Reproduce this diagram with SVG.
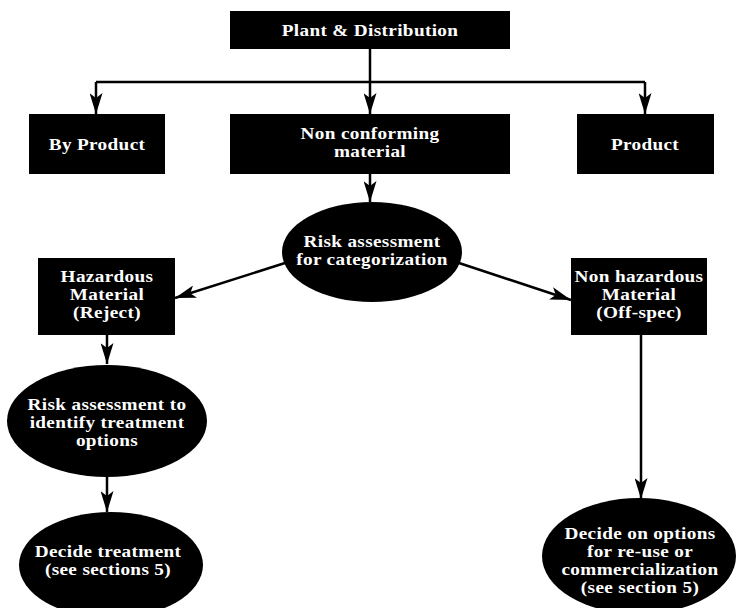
<svg xmlns="http://www.w3.org/2000/svg" width="737" height="608" viewBox="0 0 737 608">
<defs>
<marker id="arr" markerWidth="21" markerHeight="13" refX="21" refY="6.5" orient="auto" markerUnits="userSpaceOnUse" viewBox="0 0 21 13">
<path d="M0,0 L21,6.5 L0,13 L5,6.5 Z" fill="#000"/>
</marker>
<style>
.n{fill:#000}
.t{fill:#fff;font-family:"Liberation Serif",serif;font-weight:bold;font-size:16px;letter-spacing:0.3px;text-anchor:middle}
.c{stroke:#000;stroke-width:2.5;fill:none}
</style>
</defs>
<rect width="737" height="608" fill="#fff"/>
<g id="connectors">
<path class="c" d="M370,49 V82"/>
<path class="c" d="M96,82 H645"/>
<path class="c" d="M96,82 V114" marker-end="url(#arr)"/>
<path class="c" d="M370,82 V114" marker-end="url(#arr)"/>
<path class="c" d="M645,82 V114" marker-end="url(#arr)"/>
<path class="c" d="M370,174 V202" marker-end="url(#arr)"/>
<path class="c" d="M285,263 L175,298" marker-end="url(#arr)"/>
<path class="c" d="M459,263 L571,300" marker-end="url(#arr)"/>
<path class="c" d="M107,335 V364" marker-end="url(#arr)"/>
<path class="c" d="M107,477 V512" marker-end="url(#arr)"/>
<path class="c" d="M641,335 V499" marker-end="url(#arr)"/>
</g>
<g id="plant"><rect class="n" x="230" y="11" width="280" height="38"/><text class="t" transform="translate(370,35.5) scale(1.2,1)">Plant &amp; Distribution</text></g>
<g id="byproduct"><rect class="n" x="29" y="114" width="136" height="60"/><text class="t" transform="translate(97,150) scale(1.2,1)">By Product</text></g>
<g id="nonconf"><rect class="n" x="230" y="114" width="280" height="60"/><text class="t" transform="translate(370,139) scale(1.2,1)">Non conforming</text><text class="t" transform="translate(370,157) scale(1.2,1)">material</text></g>
<g id="product"><rect class="n" x="577" y="114" width="137" height="60"/><text class="t" transform="translate(645,150) scale(1.2,1)">Product</text></g>
<g id="riskcat"><ellipse class="n" cx="372" cy="252" rx="90" ry="50"/><text class="t" transform="translate(372,247) scale(1.2,1)">Risk assessment</text><text class="t" transform="translate(372,265) scale(1.2,1)">for categorization</text></g>
<g id="hazard"><rect class="n" x="38" y="258" width="137" height="77"/><text class="t" transform="translate(107,282) scale(1.2,1)">Hazardous</text><text class="t" transform="translate(107,300) scale(1.2,1)">Material</text><text class="t" transform="translate(107,318) scale(1.2,1)">(Reject)</text></g>
<g id="nonhazard"><rect class="n" x="571" y="258" width="136" height="77"/><text class="t" transform="translate(639,282) scale(1.2,1)">Non hazardous</text><text class="t" transform="translate(639,300) scale(1.2,1)">Material</text><text class="t" transform="translate(639,318) scale(1.2,1)">(Off-spec)</text></g>
<g id="risktreat"><ellipse class="n" cx="107" cy="421" rx="100" ry="56"/><text class="t" transform="translate(107,410) scale(1.2,1)">Risk assessment to</text><text class="t" transform="translate(107,428) scale(1.2,1)">identify treatment</text><text class="t" transform="translate(107,446) scale(1.2,1)">options</text></g>
<g id="decidetreat"><ellipse class="n" cx="111" cy="565" rx="92" ry="53"/><text class="t" transform="translate(108,557) scale(1.2,1)">Decide treatment</text><text class="t" transform="translate(108,575) scale(1.2,1)">(see sections 5)</text></g>
<g id="decideopt"><ellipse class="n" cx="639" cy="556" rx="97" ry="58"/><text class="t" transform="translate(640,539) scale(1.2,1)">Decide on options</text><text class="t" transform="translate(640,557) scale(1.2,1)">for re-use or</text><text class="t" transform="translate(640,575) scale(1.2,1)">commercialization</text><text class="t" transform="translate(640,593) scale(1.2,1)">(see section 5)</text></g>
</svg>
